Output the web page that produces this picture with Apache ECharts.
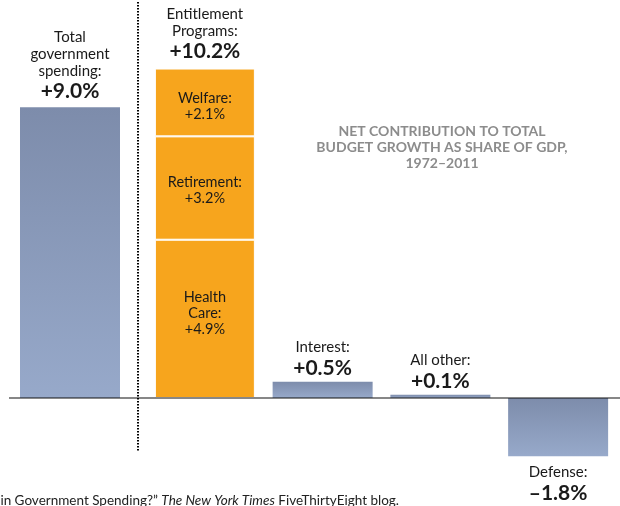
<!DOCTYPE html>
<html><head><meta charset="utf-8">
<script src="https://cdn.jsdelivr.net/npm/echarts@6/dist/echarts.min.js"></script>
<style>html,body{margin:0;padding:0;background:#fff}#c{width:620px;height:506px}</style>
</head><body><div id="c"></div>
<script>
// ---- data ----
const totalCategory = ['Total government spending'];
const totalValue = [9.0];
const totalLabel = ['Total\ngovernment\nspending:'];

const categories = ['Entitlement Programs', 'Interest', 'All other', 'Defense'];
const mainValues = [10.2, 0.5, 0.1, -1.8];
const mainLabels = ['Entitlement\nPrograms:', 'Interest:', 'All other:', 'Defense:'];

const entitlementParts = ['Health\nCare:', 'Retirement:', 'Welfare:'];
const entitlementValues = [4.9, 3.2, 2.1];

const noteLines = ['NET CONTRIBUTION TO TOTAL', 'BUDGET GROWTH AS SHARE OF GDP,', '1972–2011'];

// ---- helpers ----
function fmt(v) { return (v >= 0 ? '+' : '–') + Math.abs(v).toFixed(1) + '%'; }
function richName(name) { return name.split('\n').map(s => '{n|' + s + '}').join('\n'); }
const FONT = 'Lato';
const rich = {
  n: { fontFamily: FONT, fontSize: 15, lineHeight: 17, color: '#1a1a1a' },
  v: { fontFamily: FONT, fontSize: 21, fontWeight: 'bold', lineHeight: 24, color: '#1a1a1a' }
};
const blueGrad = () => new echarts.graphic.LinearGradient(0, 0, 0, 1, [
  { offset: 0, color: '#7d8cab' }, { offset: 1, color: '#97a9ca' }
]);
const ORANGE = '#f7a51d';
const YMIN = -3, YMAX = 11;
const partOffsets = [[0, -6], [0, 2], [0, 4]];

const chart = echarts.init(document.getElementById('c'), null, { renderer: 'canvas' });

function partSeries(i) {
  return {
    type: 'bar', xAxisIndex: 1, yAxisIndex: 1, stack: 'ent', barWidth: 100, barGap: '-100%',
    data: categories.map((c, j) => j === 0 ? entitlementValues[i] : '-'),
    itemStyle: { color: ORANGE, borderColor: '#ffffff', borderWidth: 1 },
    label: {
      show: true, position: 'inside', offset: partOffsets[i],
      fontFamily: FONT, fontSize: 14.5, lineHeight: 16, color: '#1a1a1a',
      formatter: () => entitlementParts[i] + '\n' + fmt(entitlementValues[i])
    },
    z: 3
  };
}

const option = {
  animation: false,
  grid: [
    { left: 9, width: 122, top: 42.7, bottom: 11.1 },
    { left: 146, width: 471, top: 42.7, bottom: 11.1 }
  ],
  xAxis: [
    { type: 'category', gridIndex: 0, data: totalCategory, axisLine: { show: false }, axisTick: { show: false }, axisLabel: { show: false } },
    { type: 'category', gridIndex: 1, data: categories, axisLine: { show: false }, axisTick: { show: false }, axisLabel: { show: false } }
  ],
  yAxis: [
    { type: 'value', gridIndex: 0, min: YMIN, max: YMAX, show: false, splitLine: { show: false } },
    { type: 'value', gridIndex: 1, min: YMIN, max: YMAX, show: false, splitLine: { show: false } }
  ],
  series: [
    {
      type: 'bar', xAxisIndex: 0, yAxisIndex: 0, barWidth: 100,
      data: totalValue,
      itemStyle: { color: blueGrad() },
      label: {
        show: true, position: 'top', distance: 4, rich,
        formatter: p => richName(totalLabel[p.dataIndex]) + '\n{v|' + fmt(p.value) + '}'
      }
    },
    partSeries(0), partSeries(1), partSeries(2),
    {
      type: 'bar', xAxisIndex: 1, yAxisIndex: 1, barWidth: 100, barGap: '-100%',
      data: mainValues.map((v, i) => ({
        value: v,
        itemStyle: { color: i === 0 ? 'rgba(0,0,0,0)' : blueGrad() },
        label: v < 0 ? { position: 'bottom', distance: 8 } : { position: 'top', distance: i === 0 ? 5 : 2 }
      })),
      label: {
        show: true, rich,
        formatter: p => richName(mainLabels[p.dataIndex]) + '\n{v|' + fmt(p.value) + '}'
      },
      z: 2
    }
  ]
};
chart.setOption(option);

const y0 = chart.convertToPixel({ yAxisIndex: 0 }, 0);
chart.setOption({
  graphic: [
    { type: 'line', z: 100, shape: { x1: 9, y1: y0, x2: 620, y2: y0 }, style: { stroke: '#111', lineWidth: 1.2 } },
    { type: 'line', z: 100, shape: { x1: 138, y1: 2, x2: 138, y2: 451 }, style: { stroke: '#000', lineWidth: 2, lineDash: [1.5, 1.5] } },
    {
      type: 'text', z: 100, x: 442, y: 123,
      style: {
        text: noteLines.join('\n'), align: 'center', verticalAlign: 'top',
        fontFamily: FONT, fontSize: 14, fontWeight: 'bold', lineHeight: 16, fill: '#8c8c8c'
      }
    },
    {
      type: 'text', z: 100, x: 399, y: 501,
      style: {
        text: '{r|“What Is Driving Growth in Government Spending?” }{i|The New York Times}{r| FiveThirtyEight blog.}',
        align: 'right', verticalAlign: 'middle',
        rich: {
          r: { fontFamily: FONT, fontSize: 13.5, fill: '#222' },
          i: { fontFamily: FONT, fontSize: 13.5, fontStyle: 'italic', fill: '#222' }
        }
      }
    }
  ]
});
</script>
</body></html>
